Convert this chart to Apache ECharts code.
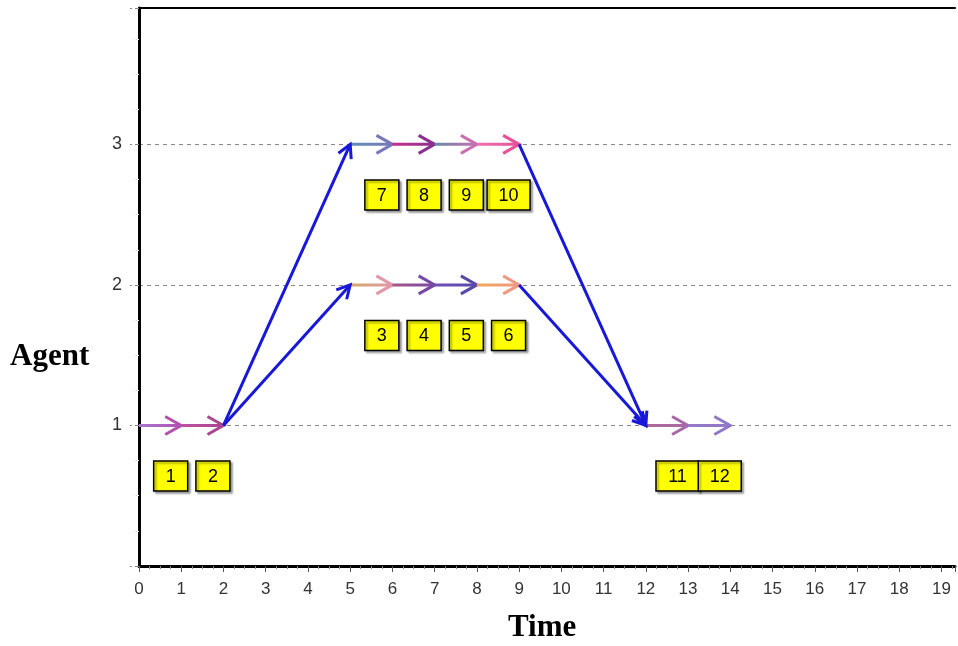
<!DOCTYPE html>
<html>
<head>
<meta charset="utf-8">
<script src="https://cdn.jsdelivr.net/npm/echarts@6/dist/echarts.min.js"></script>
<style>
html,body{margin:0;padding:0;background:#fff;}
#chart{width:958px;height:646px;}
</style>
</head>
<body>
<div id="chart"></div>
<script>
// ---- data ----
const segAgent = [1, 1, 2, 2, 2, 2, 3, 3, 3, 3, 1, 1];
const segStart = [0, 1, 5, 6, 7, 8, 5, 6, 7, 8, 12, 13];
const segEnd   = [1, 2, 6, 7, 8, 9, 6, 7, 8, 9, 13, 14];
const segLabels = ['1','2','3','4','5','6','7','8','9','10','11','12'];
const moveFromTime  = [2, 2, 9, 9];
const moveFromAgent = [1, 1, 3, 2];
const moveToTime    = [5, 5, 12, 12];
const moveToAgent   = [3, 2, 1, 1];
const xTicks = [0,1,2,3,4,5,6,7,8,9,10,11,12,13,14,15,16,17,18,19];
const yTicks = [1, 2, 3];

// ---- styles ----
const segColorFrom = ['#a878d0','#c050a0','#d8a868','#a85888','#7050b8','#f0a858','#6090b8','#c83090','#6888a8','#f070b0','#b06898','#9878c8'];
const segColorTo   = ['#b050b0','#a84890','#e098a8','#7848a8','#5848a8','#f09880','#7878b8','#883090','#c870b0','#e85098','#a868a8','#9078c8'];
const blue = '#1818d8';

const segData = segAgent.map((a, i) => [segStart[i], a, segEnd[i], a, i]);
const moveData = moveFromTime.map((t, i) => [t, moveFromAgent[i], moveToTime[i], moveToAgent[i], i]);
const boxData = segAgent.map((a, i) => [segEnd[i] - 0.25, a - 0.36, i]);

function arrow(p1, p2, stroke, headColor, back, half, lw) {
  const dx = p2[0] - p1[0], dy = p2[1] - p1[1];
  const L = Math.hypot(dx, dy) || 1;
  const ux = dx / L, uy = dy / L;
  const nx = -uy, ny = ux;
  const pts = [
    [p2[0] - back * ux + half * nx, p2[1] - back * uy + half * ny],
    [p2[0], p2[1]],
    [p2[0] - back * ux - half * nx, p2[1] - back * uy - half * ny]
  ];
  return [
    { type: 'line', shape: { x1: p1[0], y1: p1[1], x2: p2[0], y2: p2[1] }, style: { stroke: stroke, lineWidth: lw } },
    { type: 'polyline', shape: { points: pts }, style: { stroke: headColor, lineWidth: lw, fill: null, lineJoin: 'miter' } }
  ];
}

const chart = echarts.init(document.getElementById('chart'));
chart.setOption({
  animation: false,
  backgroundColor: '#fff',
  grid: { left: 139, top: 8, right: 0, bottom: 80 },
  xAxis: [{
    type: 'value', min: 0, max: 19.32, interval: 1,
    axisLine: { lineStyle: { color: '#000', width: 3 } },
    axisTick: { length: 6, lineStyle: { color: '#555', width: 1 } },
    minorTick: { show: true, splitNumber: 4, length: 3, lineStyle: { color: '#888' } },
    splitLine: { show: false },
    axisLabel: {
      formatter: v => xTicks.indexOf(v) >= 0 ? String(v) : '',
      fontSize: 17, color: '#333', margin: 15, fontFamily: 'Liberation Sans'
    }
  }, {
    type: 'value', position: 'top', min: 0, max: 19.32,
    axisLine: { show: true, lineStyle: { color: '#000', width: 2 } },
    axisTick: { show: false }, axisLabel: { show: false }, splitLine: { show: false }
  }],
  yAxis: {
    type: 'value', min: 0, max: 3.97, interval: 1,
    axisLine: { lineStyle: { color: '#000', width: 3 } },
    axisTick: { show: true, length: 9, lineStyle: { color: '#888', type: [4, 3] } },
    minorTick: { show: true, splitNumber: 4, length: 5, lineStyle: { color: '#ddd', type: 'dotted' } },
    splitLine: { show: true, lineStyle: { color: '#888', type: [4, 4], width: 1 } },
    axisLabel: {
      formatter: v => yTicks.indexOf(v) >= 0 ? String(v) : '',
      fontSize: 18, color: '#333', margin: 17, fontFamily: 'Liberation Sans'
    }
  },
  graphic: [
    { type: 'text', left: 10, top: 341, style: { text: 'Agent', font: 'bold 31px "Liberation Serif"', fill: '#000' } },
    { type: 'text', left: 508, top: 612, style: { text: 'Time', font: 'bold 31px "Liberation Serif"', fill: '#000' } }
  ],
  series: [
    {
      type: 'custom', coordinateSystem: 'cartesian2d', z: 3,
      encode: { x: [0, 2], y: [1, 3] },
      data: segData,
      renderItem: function (params, api) {
        const p1 = api.coord([api.value(0), api.value(1)]);
        const p2 = api.coord([api.value(2), api.value(3)]);
        const i = api.value(4);
        const grad = new echarts.graphic.LinearGradient(p1[0], p1[1], p2[0], p2[1], [
          { offset: 0, color: segColorFrom[i] }, { offset: 1, color: segColorTo[i] }
        ], true);
        return { type: 'group', children: arrow(p1, p2, grad, segColorTo[i], 16, 9, 3) };
      }
    },
    {
      type: 'custom', coordinateSystem: 'cartesian2d', z: 4,
      encode: { x: [0, 2], y: [1, 3] },
      data: moveData,
      renderItem: function (params, api) {
        const p1 = api.coord([api.value(0), api.value(1)]);
        const p2 = api.coord([api.value(2), api.value(3)]);
        return { type: 'group', children: arrow(p1, p2, blue, blue, 13, 7, 3) };
      }
    },
    {
      type: 'custom', coordinateSystem: 'cartesian2d', z: 5,
      encode: { x: 0, y: 1 },
      data: boxData,
      renderItem: function (params, api) {
        const c = api.coord([api.value(0), api.value(1)]);
        const txt = segLabels[api.value(2)];
        const w = txt.length > 1 ? 43 : 34, h = 30;
        return {
          type: 'group',
          children: [
            { type: 'rect', shape: { x: c[0] - w / 2, y: c[1] - h / 2, width: w, height: h },
              style: { fill: '#ffff00', stroke: '#000', lineWidth: 1.5, shadowColor: 'rgba(0,0,0,0.35)', shadowOffsetX: 2, shadowOffsetY: 2, shadowBlur: 2 } },
            { type: 'text', style: { text: txt, x: c[0], y: c[1] + 1, align: 'center', verticalAlign: 'middle',
              font: '18px "Liberation Sans"', fill: '#000' } }
          ]
        };
      }
    }
  ]
});
</script>
</body>
</html>
